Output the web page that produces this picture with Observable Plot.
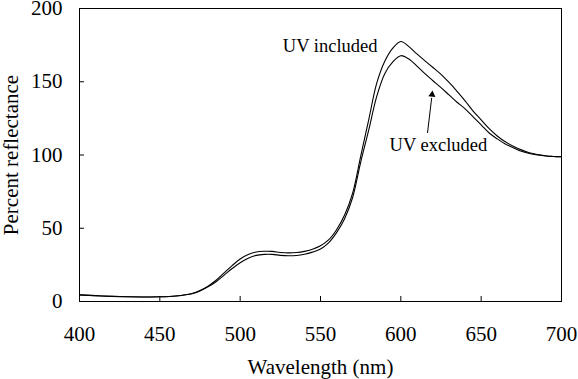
<!DOCTYPE html>
<html>
<head>
<meta charset="utf-8">
<script src="https://cdn.jsdelivr.net/npm/d3@7"></script>
<script src="https://cdn.jsdelivr.net/npm/@observablehq/plot@0.6"></script>
<style>
  html, body { margin: 0; padding: 0; background: #fff; }
  #chart svg { display: block; }
</style>
</head>
<body>
<div id="chart"></div>
<script>
const wavelengths = [400,410,420,430,440,450,460,470,475,480,485,490,495,500,505,510,515,520,525,530,535,540,545,550,555,560,565,570,575,580,585,590,595,600,605,610,615,620,625,630,635,640,645,650,655,660,665,670,675,680,685,690,695,700];
const uvIncluded = [4.5,4.0,3.5,3.2,3.1,3.2,3.8,5.5,7.5,10.5,14.5,19.5,24.5,29.0,32.0,33.8,34.3,34.2,33.5,33.2,33.4,34.2,35.7,38.0,42.0,49.0,59.0,74.0,99.0,124.0,149.0,164.0,173.0,177.5,174.0,169.0,164.3,159.7,155.0,149.5,143.5,137.0,130.0,124.0,118.0,113.0,109.0,106.0,103.5,101.5,100.3,99.5,99.0,98.8];
const uvExcluded = [4.5,4.0,3.5,3.2,3.1,3.2,3.8,5.3,7.2,10.0,13.5,18.0,22.5,26.5,29.5,31.5,32.2,32.2,31.5,31.2,31.4,32.2,33.7,35.8,40.0,47.0,56.5,71.0,95.0,117.0,140.0,155.5,163.5,167.8,165.5,160.7,155.5,150.7,146.0,141.0,136.0,131.5,126.0,120.5,115.0,111.0,107.5,105.0,102.5,101.0,100.0,99.3,99.0,98.8];
const xTicks = [400,450,500,550,600,650,700];
const yTicks = [0,50,100,150,200];
const labelIncluded = [{text: "UV included", x: 585.5, y: 174.6}];
const labelExcluded = [{text: "UV excluded", x: 623.4, y: 106.5}];
const arrowLine = [{x1: 616.6, y1: 115, x2: 619.2, y2: 139}];
const arrowHead = [{x: 619.45, y: 141.2}];

const rows = [];
wavelengths.forEach((w, i) => {
  rows.push({series: "UV included", wl: w, v: uvIncluded[i]});
  rows.push({series: "UV excluded", wl: w, v: uvExcluded[i]});
});

const serif = "'Liberation Serif', 'Times New Roman', serif";

const chart = Plot.plot({
  width: 578,
  height: 379,
  marginLeft: 79,
  marginRight: 17,
  marginTop: 8,
  marginBottom: 78,
  style: {fontFamily: serif, fontSize: "21px", color: "#000", background: "#fff"},
  x: {domain: [400, 700]},
  y: {domain: [0, 200]},
  marks: [
    Plot.frame({stroke: "#000", strokeWidth: 1}),
    Plot.axisX({ticks: xTicks, tickSize: -5, tickPadding: 30, fontSize: 21, fontFamily: serif, label: "Wavelength (nm)", labelAnchor: "center", labelOffset: 72, labelArrow: "none", stroke: "#000"}),
    Plot.axisY({ticks: yTicks, tickSize: -5, tickPadding: 22, fontSize: 21, fontFamily: serif, label: "Percent reflectance", labelAnchor: "center", labelOffset: 76, labelArrow: "none", stroke: "#000"}),
    Plot.line(rows, {x: "wl", y: "v", z: "series", stroke: "#000", strokeWidth: 1.1, curve: "catmull-rom"}),
    Plot.text(labelIncluded, {x: "x", y: "y", text: "text", textAnchor: "end", fontSize: 18.5, fontFamily: serif, fill: "#000"}),
    Plot.text(labelExcluded, {x: "x", y: "y", text: "text", textAnchor: "middle", fontSize: 18.5, fontFamily: serif, fill: "#000"}),
    Plot.link(arrowLine, {x1: "x1", y1: "y1", x2: "x2", y2: "y2", stroke: "#000", strokeWidth: 1}),
    Plot.dot(arrowHead, {x: "x", y: "y", symbol: "triangle", r: 2.6, fill: "#000", stroke: "none", rotate: 6})
  ]
});
document.getElementById("chart").appendChild(chart);
</script>
</body>
</html>
